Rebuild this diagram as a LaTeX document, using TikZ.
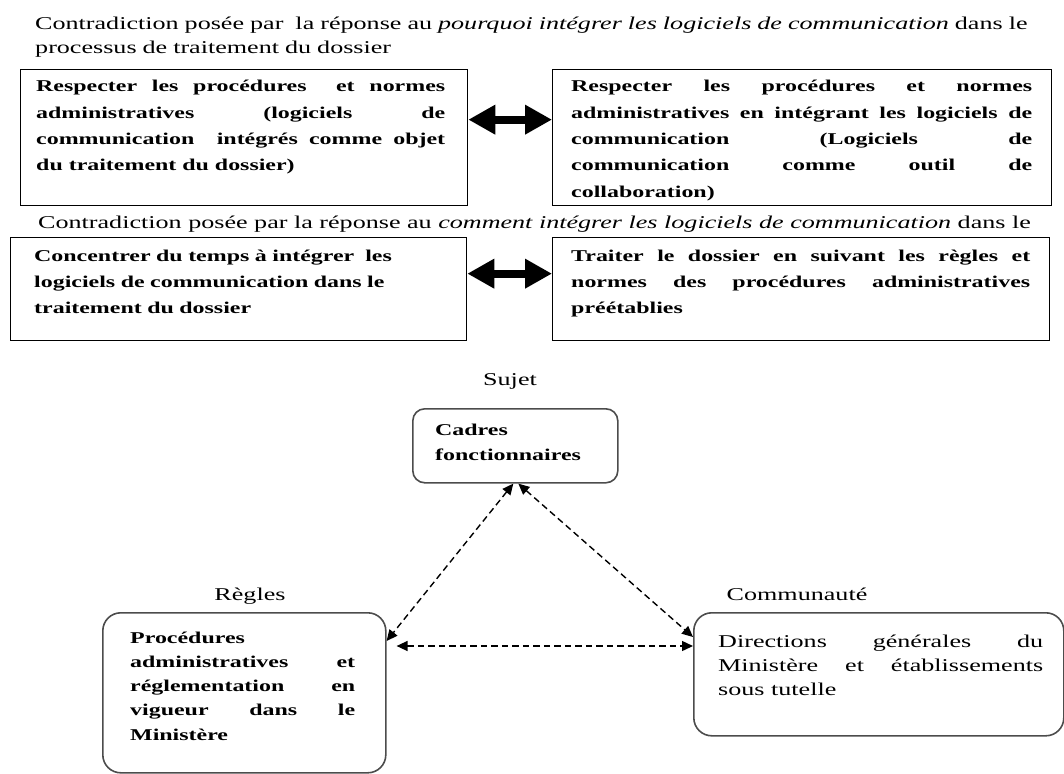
\documentclass[tikz,border=0pt]{standalone}
\usepackage{fontspec}
\setmainfont{Liberation Serif}[FakeStretch=1.45]
\usetikzlibrary{arrows.meta}
\hyphenpenalty=10000
\exhyphenpenalty=10000

\begin{document}
\begin{tikzpicture}[x=1pt,y=-1pt,
    cadre/.style={draw,line width=1.3pt,inner sep=0pt,anchor=north west},
    arrondi/.style={draw=black!70,line width=1.6pt,inner sep=0pt,anchor=north west},
    ligne/.style={font=\fontsize{18}{24}\selectfont,inner sep=0pt,anchor=base west},
    gras/.style={font=\fontsize{16.5}{26.3}\selectfont\bfseries,
      inner sep=0pt,anchor=base west,align=justify},
    fleche/.style={line width=8pt,{Triangle[length=27pt,width=28pt]}-{Triangle[length=27pt,width=28pt]}},
    tirets/.style={line width=1.4pt,dash pattern=on 6.5pt off 4pt,
      {Triangle[length=11pt,width=10pt]}-{Triangle[length=11pt,width=10pt]}}]
  \useasboundingbox (0,0) rectangle (1064,773);
  % premiere contradiction
  \node[ligne,text width=1040pt,align=left] (titre1) at (35,30)
    {Contradiction posée par\ \ la réponse au \textit{pourquoi intégrer les logiciels de communication} dans le\\
     processus de traitement du dossier};
  \node[cadre,minimum width=447pt,minimum height=136pt] (A1) at (20,69) {};
  \node[cadre,minimum width=499pt,minimum height=136pt] (A2) at (552,69) {};
  \node[gras,text width=409pt] (tA1) at (36,92)
    {Respecter les procédures\ \ et normes \linebreak administratives (logiciels de \linebreak
     communication\ \ intégrés comme objet \linebreak du traitement du dossier)};
  \node[gras,text width=461pt] (tA2) at (571,92)
    {Respecter les procédures et normes \linebreak administratives en intégrant les logiciels de \linebreak
     communication (Logiciels de \linebreak communication comme outil de \linebreak collaboration)};
  \draw[fleche] ([yshift=18pt]A1.east) -- ([yshift=18pt]A2.west);
  % deuxieme contradiction
  \node[ligne] (titre2) at (38,228)
    {Contradiction posée par la réponse au \textit{comment intégrer les logiciels de communication} dans le};
  \node[cadre,minimum width=456pt,minimum height=103pt] (B1) at (10,237) {};
  \node[cadre,minimum width=497pt,minimum height=103pt] (B2) at (552,237) {};
  \node[gras,text width=400pt,align=left] (tB1) at (34,261)
    {Concentrer du temps à intégrer\ \ les\\ logiciels de communication dans le\\ traitement du dossier};
  \node[gras,text width=459pt] (tB2) at (571,261)
    {Traiter le dossier en suivant les règles et \linebreak normes des procédures administratives \linebreak préétablies};
  \draw[fleche] ([yshift=15.5pt]B1.east) -- ([yshift=15.5pt]B2.west);
  % triangle du systeme d'activite
  \node[ligne,anchor=base] (sujet) at (510,385) {Sujet};
  \node[arrondi,rounded corners=12pt,minimum width=205pt,minimum height=74pt] (cadres) at (412,408) {};
  \node[gras,font=\fontsize{16.5}{25}\selectfont\bfseries,text width=170pt,align=left] (tcadres) at (435,435)
    {Cadres\\ fonctionnaires};
  \node[ligne,anchor=base] (regles) at (250,600) {Règles};
  \node[arrondi,rounded corners=18pt,minimum width=283pt,minimum height=160pt] (proc) at (102,612) {};
  \node[gras,font=\fontsize{16.5}{24.3}\selectfont\bfseries,text width=225pt] (tproc) at (130,643)
    {Procédures\\ administratives et \linebreak réglementation en \linebreak vigueur dans le \linebreak Ministère};
  \node[ligne,anchor=base] (communaute) at (797,600) {Communauté};
  \node[arrondi,rounded corners=18pt,minimum width=370pt,minimum height=123pt] (dir) at (693,612) {};
  \node[ligne,text width=325pt,align=justify] (tdir) at (718,647)
    {Directions générales du \linebreak Ministère et établissements \linebreak sous tutelle};
  \draw[tirets] ([xshift=-2pt]cadres.south) -- ([yshift=-29pt]proc.north east);
  \draw[tirets] ([xshift=3pt]cadres.south) -- ([yshift=-25pt]dir.north west);
  \draw[tirets] ([xshift=10pt,yshift=-34pt]proc.north east) -- ([yshift=-34pt]dir.north west);
\end{tikzpicture}
\end{document}
